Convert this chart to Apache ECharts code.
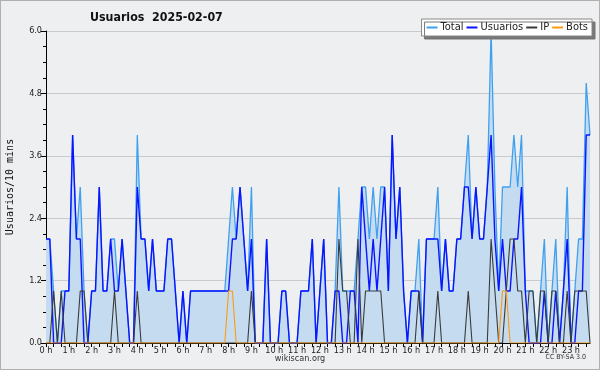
<!DOCTYPE html>
<html>
<head>
<meta charset="utf-8">
<script src="https://cdn.jsdelivr.net/npm/echarts@6/dist/echarts.min.js"></script>
<style>
html,body{margin:0;padding:0;background:#fff;}
#c{width:600px;height:370px;box-sizing:border-box;border:1px solid #b0b0b0;background:#eeeff0;}
</style>
</head>
<body>
<div id="c"></div>
<script>
// Hour tick labels (one per hour, every 6 ten-minute slots)
var hourLabels = ['0 h','1 h','2 h','3 h','4 h','5 h','6 h','7 h','8 h','9 h','10 h','11 h',
  '12 h','13 h','14 h','15 h','16 h','17 h','18 h','19 h','20 h','21 h','22 h','23 h'];
var slotsPerHour = 6;

// Values per 10-minute slot, 0:00 .. 23:50
var totalVals = [
  2,2,1,0,1,1,  1,4,2,3,1,0,  1,1,3,1,1,2,  2,1,2,1,0,0,
  4,2,2,1,2,1,  1,1,2,2,1,0,  1,0,1,1,1,1,  1,1,1,1,1,1,
  2,3,2,3,2,1,  3,0,0,0,2,0,  0,0,1,1,0,0,  0,1,1,1,2,0,
  1,2,0,0,1,3,  1,1,1,1,2,3,  3,2,3,2,3,3,  1,4,2,3,1,0,
  1,1,2,0,2,2,  2,3,1,2,1,1,  2,2,3,4,2,3,  2,2,3,6,3,1,
  3,3,3,4,3,4,  1,1,1,0,1,2,  0,1,2,0,1,3,  0,1,2,2,5,4
];
var usuariosVals = [
  2,2,0,0,0,1,  1,4,2,2,0,0,  1,1,3,1,1,2,  1,1,2,1,0,0,
  3,2,2,1,2,1,  1,1,2,2,1,0,  1,0,1,1,1,1,  1,1,1,1,1,1,
  1,2,2,3,2,1,  2,0,0,0,2,0,  0,0,1,1,0,0,  0,1,1,1,2,0,
  1,2,0,0,1,1,  0,0,1,1,0,3,  2,1,2,1,2,3,  1,4,2,3,1,0,
  1,1,1,0,2,2,  2,2,1,2,1,1,  2,2,3,3,2,3,  2,2,3,4,2,1,
  2,1,1,2,2,3,  1,0,0,0,0,1,  0,0,1,0,1,2,  0,0,1,1,4,4
];
var ipVals = [
  0,0,1,0,1,0,  0,0,0,1,1,0,  0,0,0,0,0,0,  1,0,0,0,0,0,
  1,0,0,0,0,0,  0,0,0,0,0,0,  0,0,0,0,0,0,  0,0,0,0,0,0,
  0,0,0,0,0,0,  1,0,0,0,0,0,  0,0,0,0,0,0,  0,0,0,0,0,0,
  0,0,0,0,0,2,  1,1,0,0,2,0,  1,1,1,1,1,0,  0,0,0,0,0,0,
  0,0,1,0,0,0,  0,1,0,0,0,0,  0,0,0,1,0,0,  0,0,0,2,1,0,
  0,1,2,2,1,1,  0,1,1,0,1,1,  0,1,1,0,0,1,  0,1,1,1,1,0
];
var botsVals = [
  0,0,0,0,0,0,  0,0,0,0,0,0,  0,0,0,0,0,0,  0,0,0,0,0,0,
  0,0,0,0,0,0,  0,0,0,0,0,0,  0,0,0,0,0,0,  0,0,0,0,0,0,
  1,1,0,0,0,0,  0,0,0,0,0,0,  0,0,0,0,0,0,  0,0,0,0,0,0,
  0,0,0,0,0,0,  0,0,0,0,0,0,  0,0,0,0,0,0,  0,0,0,0,0,0,
  0,0,0,0,0,0,  0,0,0,0,0,0,  0,0,0,0,0,0,  0,0,0,0,0,0,
  1,1,0,0,0,0,  0,0,0,0,0,0,  0,0,0,0,0,0,  0,0,0,0,0,0
];
var seriesNames = ['Total','Usuarios','IP','Bots'];
var yTicks = [0, 1.2, 2.4, 3.6, 4.8, 6.0];

var categories = [];
for (var i = 0; i < totalVals.length; i++) {
  var h = Math.floor(i / slotsPerHour), m = (i % slotsPerHour) * 10;
  categories.push(h + ':' + (m < 10 ? '0' + m : m));
}

var font = "'DejaVu Sans Condensed', 'DejaVu Sans'";
var chart = echarts.init(document.getElementById('c'), null, {renderer: 'canvas'});
chart.setOption({
  animation: false,
  backgroundColor: '#eeeff0',
  title: [
    {text: 'Usuarios  2025-02-07', left: 84, top: 6,
     textStyle: {fontFamily: "'DejaVu Sans Condensed', 'DejaVu Sans'", fontSize: 12.3, fontWeight: 'bold', color: '#111'}},
    {text: 'wikiscan.org', left: 'center', bottom: 1,
     textStyle: {fontFamily: font, fontSize: 9, fontWeight: 'normal', color: '#333'}},
    {text: 'CC BY-SA 3.0', right: 8, bottom: 3,
     textStyle: {fontFamily: font, fontSize: 7, fontWeight: 'normal', color: '#333'}}
  ],
  legend: {
    data: seriesNames,
    right: 7, top: 18,
    backgroundColor: '#ffffff',
    borderColor: '#888', borderWidth: 1,
    shadowColor: '#777', shadowOffsetX: 3, shadowOffsetY: 3, shadowBlur: 0,
    padding: [3, 4, 3, 5],
    itemGap: 3, itemWidth: 11, itemHeight: 2,
    icon: 'rect',
    textStyle: {fontFamily: font, fontSize: 11, color: '#222', padding: [0, 0, 0, -2]}
  },
  grid: {left: 45, right: 9, top: 30, bottom: 26, containLabel: false, outerBoundsMode: 'none'},
  xAxis: {
    type: 'category',
    data: categories,
    boundaryGap: false,
    axisLine: {lineStyle: {color: '#000', width: 1}},
    axisTick: {show: true, interval: function (idx) { return idx % 2 === 0; }, length: 4,
               lineStyle: {color: '#000'}},
    axisLabel: {
      interval: function (idx) { return idx % slotsPerHour === 0; },
      formatter: function (v, idx) { return hourLabels[Math.floor(idx / slotsPerHour)]; },
      fontFamily: font, fontSize: 9, color: '#222', margin: 3
    },
    splitLine: {show: false}
  },
  yAxis: {
    type: 'value',
    min: yTicks[0], max: yTicks[yTicks.length - 1], interval: 1.2,
    name: 'Usuarios/10 mins',
    nameLocation: 'middle', nameGap: 31,
    nameTextStyle: {fontFamily: 'DejaVu Sans Mono', fontSize: 10, color: '#111'},
    axisLine: {show: true, lineStyle: {color: '#000', width: 1}},
    axisTick: {show: true, length: 5, lineStyle: {color: '#000'}},
    minorTick: {show: true, splitNumber: 4, length: 3, lineStyle: {color: '#000'}},
    axisLabel: {formatter: function (v) { return v.toFixed(1); },
                fontFamily: font, fontSize: 9, color: '#222', margin: 4},
    splitLine: {show: true, lineStyle: {color: '#cacaca', width: 1}}
  },
  series: [
    {name: 'Total', type: 'line', data: totalVals, symbol: 'none',
     lineStyle: {color: '#3fa0f0', width: 1.3}, itemStyle: {color: '#3fa0f0'},
     areaStyle: {color: '#c5dcf0', opacity: 1}, z: 1},
    {name: 'Usuarios', type: 'line', data: usuariosVals, symbol: 'none',
     lineStyle: {color: '#0a14ff', width: 1.4}, itemStyle: {color: '#0a14ff'}, z: 2},
    {name: 'IP', type: 'line', data: ipVals, symbol: 'none',
     lineStyle: {color: '#3a3a3a', width: 1.1}, itemStyle: {color: '#3a3a3a'}, z: 3},
    {name: 'Bots', type: 'line', data: botsVals, symbol: 'none',
     lineStyle: {color: '#ff9a10', width: 1.1}, itemStyle: {color: '#ff9a10'}, z: 4}
  ]
});
</script>
</body>
</html>
